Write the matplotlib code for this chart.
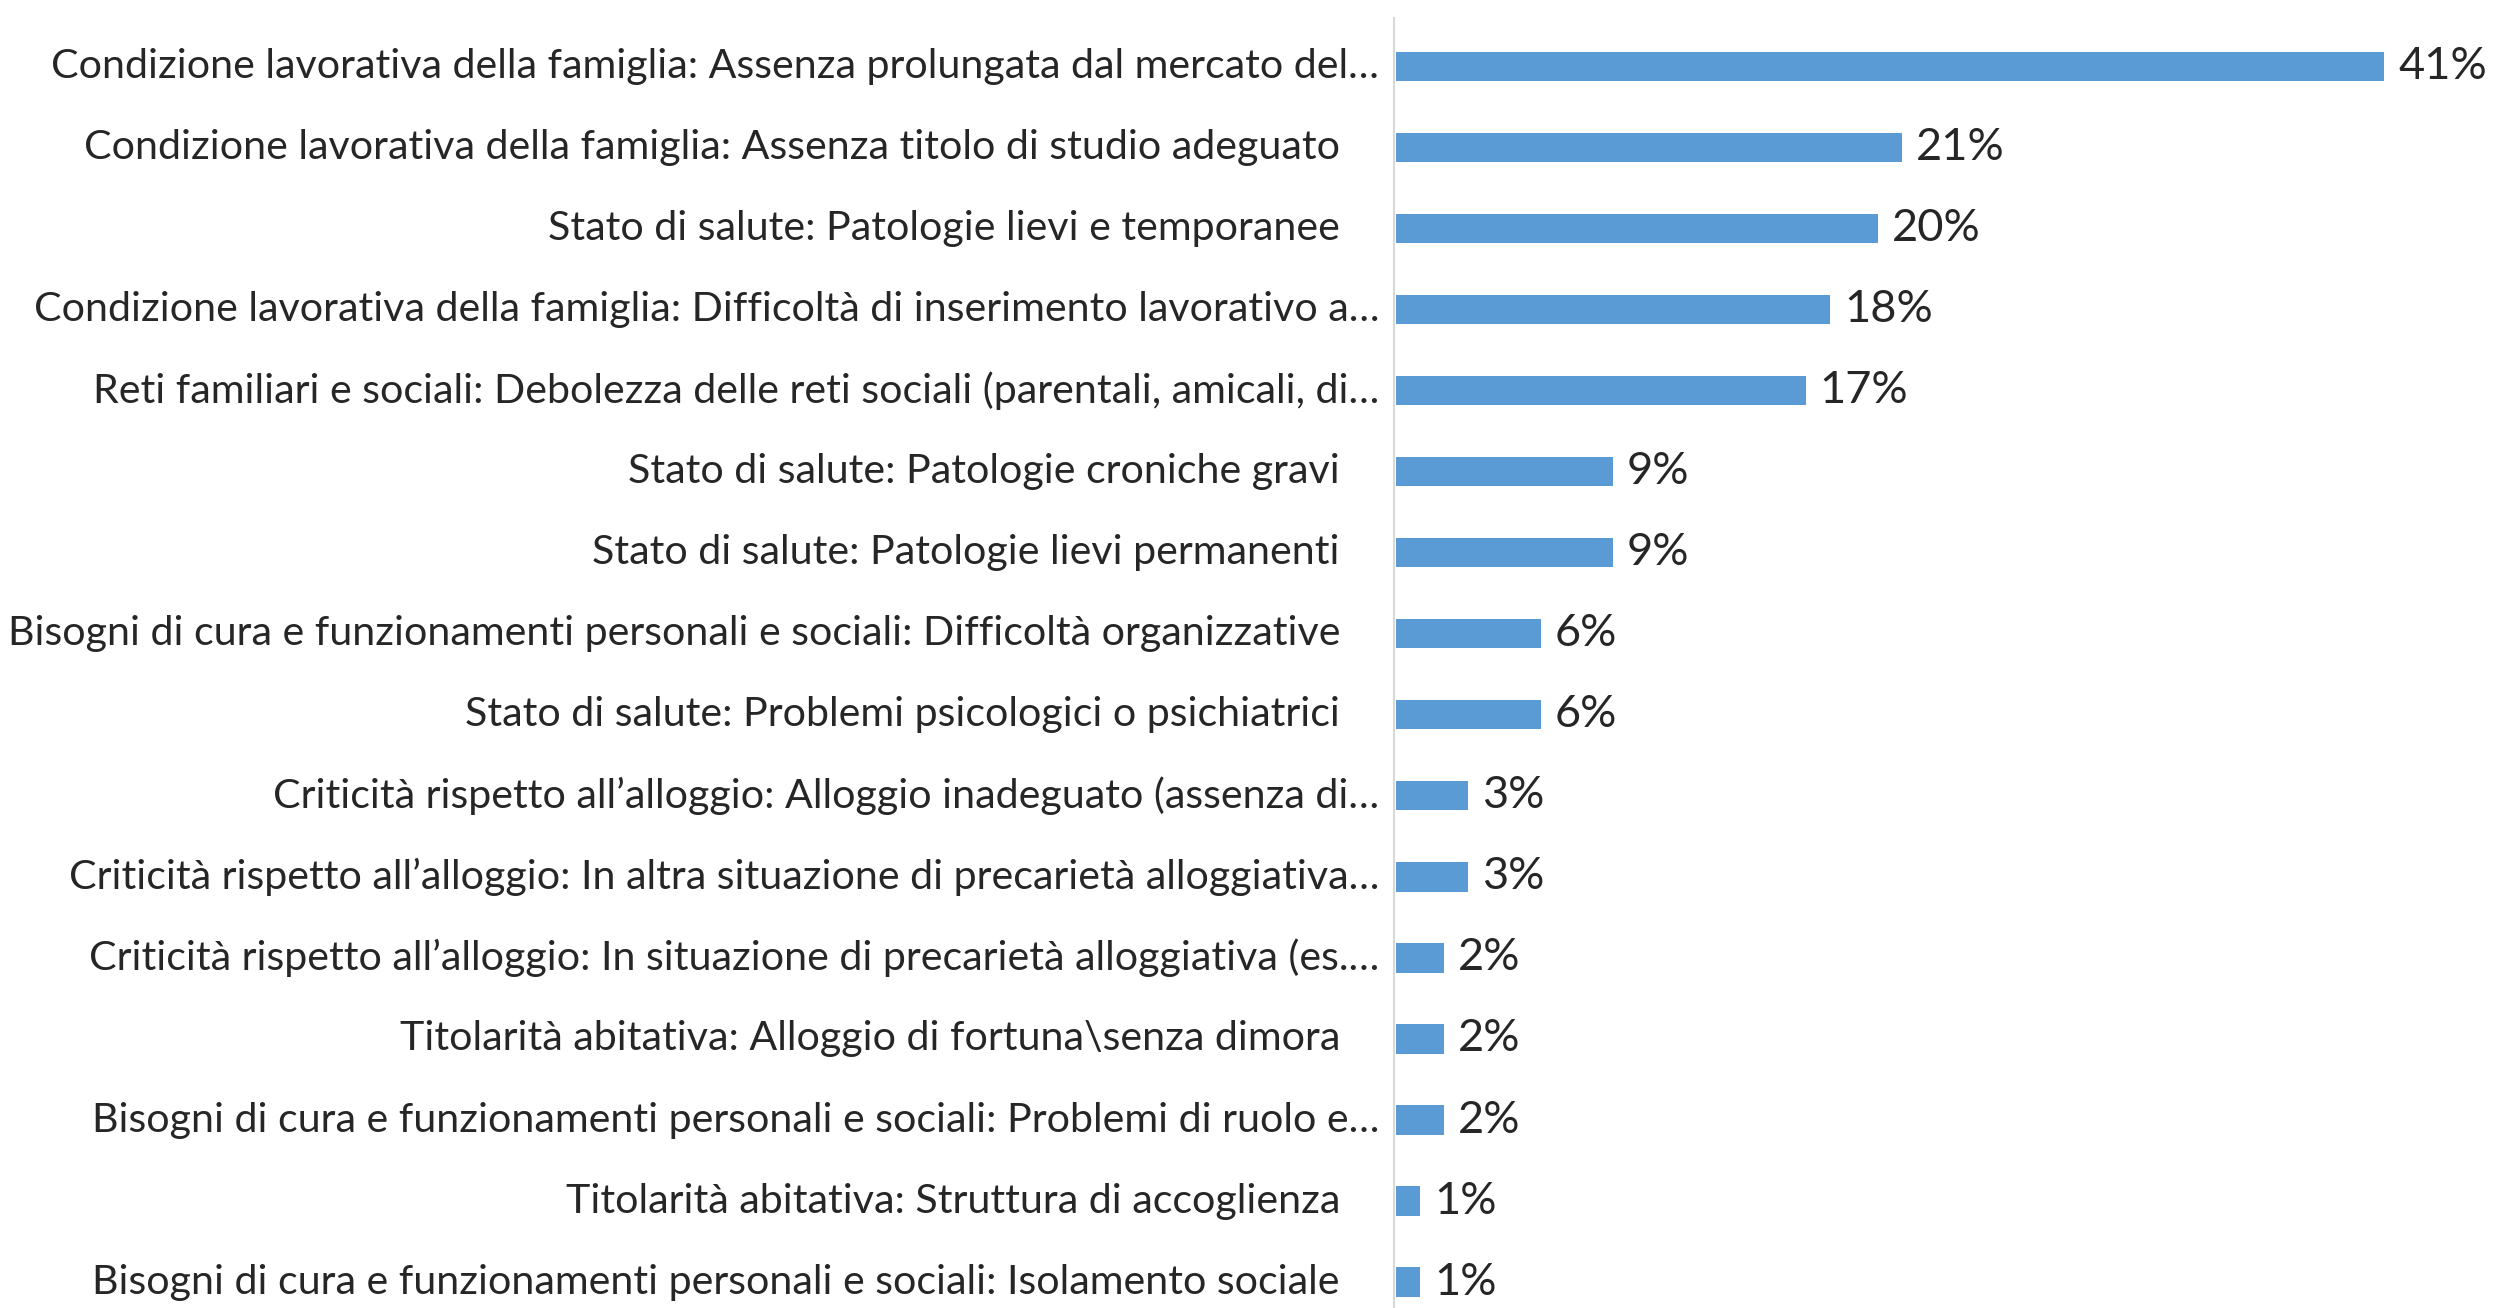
import matplotlib
matplotlib.use("Agg")
import matplotlib.pyplot as plt
import matplotlib.transforms as mtransforms

# categories, top to bottom as in the chart
labels = [
    "Condizione lavorativa della famiglia: Assenza prolungata dal mercato del…",
    "Condizione lavorativa della famiglia: Assenza titolo di studio adeguato",
    "Stato di salute: Patologie lievi e temporanee",
    "Condizione lavorativa della famiglia: Difficoltà di inserimento lavorativo a…",
    "Reti familiari e sociali: Debolezza delle reti sociali (parentali, amicali, di…",
    "Stato di salute: Patologie croniche gravi",
    "Stato di salute: Patologie lievi permanenti",
    "Bisogni di cura e funzionamenti personali e sociali: Difficoltà organizzative",
    "Stato di salute: Problemi psicologici o psichiatrici",
    "Criticità rispetto all’alloggio: Alloggio inadeguato (assenza di…",
    "Criticità rispetto all’alloggio: In altra situazione di precarietà alloggiativa…",
    "Criticità rispetto all’alloggio: In situazione di precarietà alloggiativa (es.…",
    "Titolarità abitativa: Alloggio di fortuna\\senza dimora",
    "Bisogni di cura e funzionamenti personali e sociali: Problemi di ruolo e…",
    "Titolarità abitativa: Struttura di accoglienza",
    "Bisogni di cura e funzionamenti personali e sociali: Isolamento sociale",
]
values = [41, 21, 20, 18, 17, 9, 9, 6, 6, 3, 3, 2, 2, 2, 1, 1]

plt.rcParams["font.family"] = ["Lato", "DejaVu Sans"]

W, H = 2493, 1308
fig = plt.figure(figsize=(W / 100, H / 100), dpi=100)
ax = fig.add_axes([1394 / W, 0, 1 - 1394 / W, 1290 / H])

pos = list(range(len(labels)))
ax.barh(pos, values, height=0.36, color="#5B9BD5", left=0.08)
ax.set_xlim(0, 45.6)
ax.set_ylim(15.32, -0.6)

for s in ["top", "right", "bottom"]:
    ax.spines[s].set_visible(False)
ax.spines["left"].set_color("#D9D9D9")
ax.spines["left"].set_linewidth(1.5)
ax.set_xticks([])
ax.set_yticks([])

lab_size = 29.6
val_size = 32.5

for i, (lab, v) in enumerate(zip(labels, values)):
    dx = -15 if lab.endswith("…") else -54
    off = mtransforms.offset_copy(ax.transData, fig=fig, x=dx * 0.72, y=0, units="points")
    ax.text(0, i, lab, transform=off, ha="right", va="center",
            fontsize=lab_size, color="#262626")
    off2 = mtransforms.offset_copy(ax.transData, fig=fig, x=16 * 0.72, y=0, units="points")
    ax.text(v, i, f"{v}%", transform=off2, ha="left", va="center",
            fontsize=val_size, color="#262626")

fig.savefig("out.png", dpi=100, facecolor="white")
